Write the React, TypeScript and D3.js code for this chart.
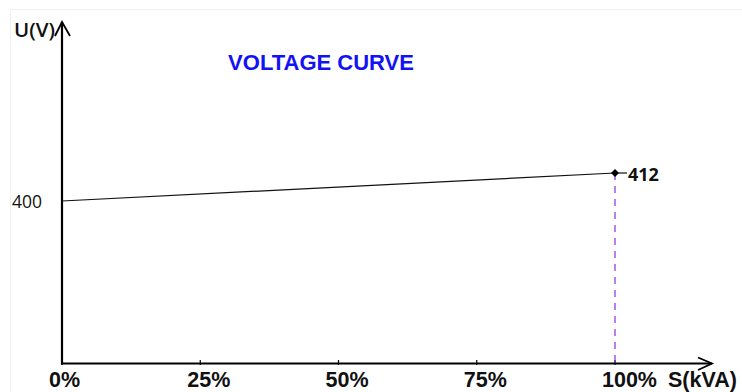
import React from "react";
import * as d3 from "d3";

const loadTicks = [0, 25, 50, 75, 100];
const tickLabels = ["0%", "25%", "50%", "75%", "100%"];
const loadPct = [0, 100];
const voltage = [400, 412];
const startLabel = "400";
const endLabel = "412";
const title = "VOLTAGE CURVE";
const yTitle = "U(V)";
const xTitle = "S(kVA)";

const W = 742;
const H = 392;
const X0 = 62;
const XAXIS_Y = 363.5;

export default function App() {
  const x = d3.scaleLinear().domain([0, 100]).range([X0, 615]);
  const y = d3.scaleLinear().domain([400, 412]).range([201, 173]);
  const pts = loadPct.map((p, i) => [x(p), y(voltage[i])] as [number, number]);
  const line = d3.line()(pts) || "";
  const last = pts[pts.length - 1];
  const first = pts[0];
  const r = 4;
  return (
    <svg
      width={W}
      height={H}
      style={{ position: "absolute", left: 0, top: 0, background: "#fff" }}
    >
      <line x1={10} y1={9.5} x2={W} y2={9.5} stroke="#f0f0f0" />
      <line x1={10.5} y1={9} x2={10.5} y2={H} stroke="#f0f0f0" />
      <text x={321} y={69.5} textAnchor="middle" fill="#1212f5" fontFamily="Liberation Sans, Arial" fontWeight="bold" fontSize={22}>
        {title}
      </text>
      <text x={14} y={37} fill="#111" fontFamily="Open Sans" fontWeight={600} fontSize={20.5}>
        {yTitle}
      </text>
      {/* y axis */}
      <line x1={X0} y1={22} x2={X0} y2={XAXIS_Y + 1} stroke="#000" strokeWidth={2.2} />
      <polyline points={`${X0 - 7},36 ${X0},22 ${X0 + 8},36`} fill="none" stroke="#000" strokeWidth={1.8} />
      {/* x axis */}
      <line x1={X0 - 1} y1={XAXIS_Y} x2={712} y2={XAXIS_Y} stroke="#000" strokeWidth={2.2} />
      <polyline points={`698,357.5 712,${XAXIS_Y} 698,370`} fill="none" stroke="#000" strokeWidth={1.8} />
      {loadTicks.map((t, i) => (
        <g key={t}>
          <line x1={x(t)} y1={360} x2={x(t)} y2={365} stroke="#000" strokeWidth={1.2} />
          <text x={x(t) - 13} y={386.5} fill="#111" fontFamily="Liberation Sans, Arial" fontWeight="bold" fontSize={21.5}>
            {tickLabels[i]}
          </text>
        </g>
      ))}
      <text x={668} y={386.5} fill="#111" fontFamily="Liberation Sans, Arial" fontWeight="bold" fontSize={21.5}>
        {xTitle}
      </text>
      {/* dashed drop line */}
      <line x1={last[0]} y1={last[1]} x2={last[0]} y2={XAXIS_Y - 1} stroke="#8a2be2" strokeWidth={1.2} strokeDasharray="7,6" />
      <path d={line} fill="none" stroke="#111" strokeWidth={1.2} />
      <line x1={last[0]} y1={last[1]} x2={last[0] + 12} y2={last[1]} stroke="#111" strokeWidth={1.2} />
      <path
        d={`M${last[0]},${last[1] - r} L${last[0] + r},${last[1]} L${last[0]},${last[1] + r} L${last[0] - r},${last[1]} Z`}
        fill="#000"
      />
      <text x={628} y={last[1] + 0.5} dominantBaseline="central" fill="#111" fontFamily="Open Sans" fontWeight={700} fontSize={18}>
        {endLabel}
      </text>
      <text x={42} y={first[1]} textAnchor="end" dominantBaseline="central" fill="#111" fontFamily="Open Sans" fontSize={17.5}>
        {startLabel}
      </text>
    </svg>
  );
}
